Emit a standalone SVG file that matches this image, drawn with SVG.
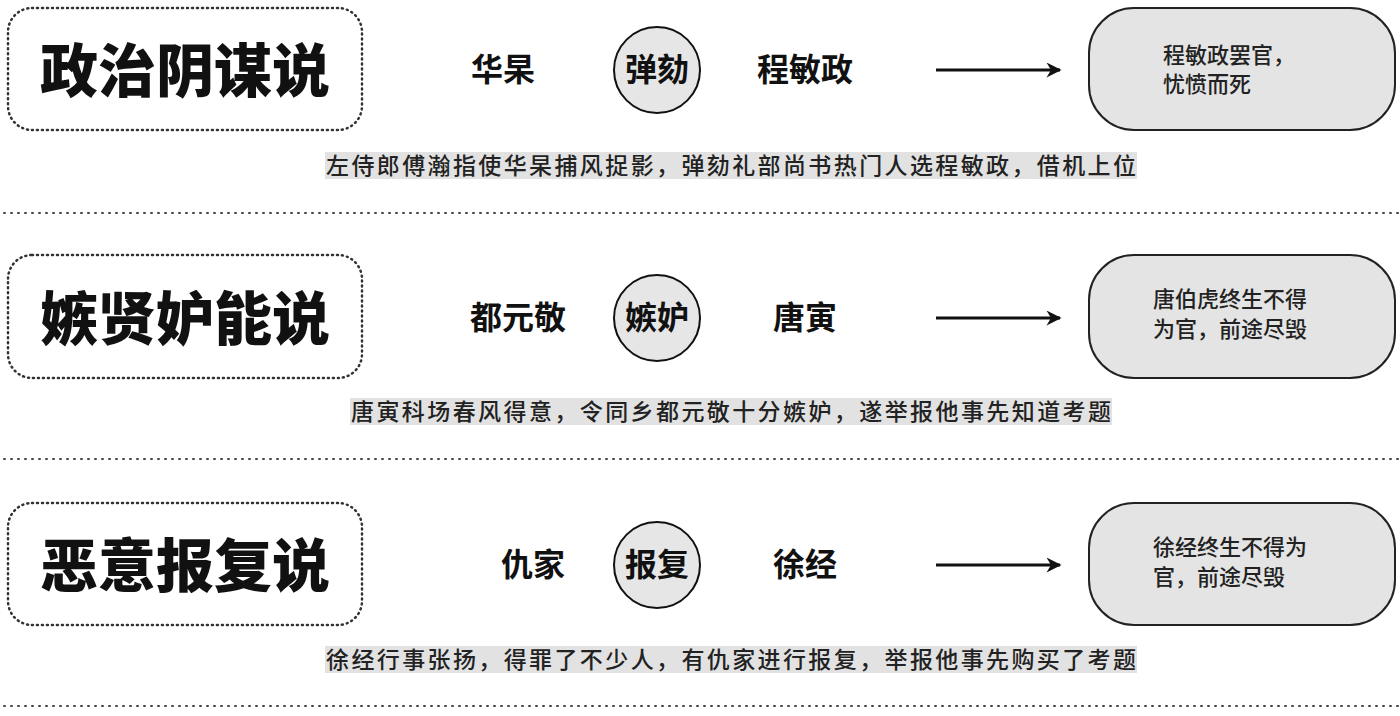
<svg xmlns="http://www.w3.org/2000/svg" width="1400" height="716" viewBox="0 0 1400 716">
<style>
.tb{fill:#fff;stroke:#333;stroke-width:2.5;stroke-dasharray:1 4;stroke-linecap:round}
.tt{font-family:"Noto Sans CJK SC",sans-serif;font-weight:900;font-size:58px;text-anchor:middle;fill:#111}
.nm{font-family:"Noto Sans CJK SC",sans-serif;font-weight:700;font-size:32px;text-anchor:middle;fill:#111}
.ci{fill:#e6e6e6;stroke:#111;stroke-width:2}
.rb{fill:#e4e4e4;stroke:#222;stroke-width:2}
.rt{font-family:"Noto Sans CJK SC",sans-serif;font-weight:500;font-size:22px;fill:#222}
.cp{font-family:"Noto Sans CJK SC",sans-serif;font-weight:500;font-size:23px;fill:#222}
.cb{fill:#e2e2e2}
.sp{stroke:#444;stroke-width:2;stroke-dasharray:1 6;stroke-linecap:round}
.ar{stroke:#111;stroke-width:3}
</style>
<defs><marker id="ah" viewBox="0 0 10 10" refX="9" refY="5" markerWidth="9" markerHeight="5" orient="auto" markerUnits="strokeWidth"><path d="M0,0 L10,5 L0,10 L3,5 z" fill="#111"/></marker></defs>
<g id="row1">
<rect class="tb" x="8" y="8" width="354" height="122" rx="24"/>
<text class="tt" x="185" y="92">政治阴谋说</text>
<text class="nm" x="503" y="81">华杲</text>
<circle class="ci" cx="657" cy="70" r="43"/>
<text class="nm" x="657" y="81">弹劾</text>
<text class="nm" x="805" y="81">程敏政</text>
<rect class="rb" x="1089" y="8" width="306" height="122" rx="45"/>
<text class="rt" x="1163" y="63">程敏政罢官，</text>
<text class="rt" x="1163" y="92">忧愤而死</text>
<rect class="cb" x="325" y="152" width="812" height="27"/>
<text class="cp" x="326" y="174" textLength="810" lengthAdjust="spacing">左侍郎傅瀚指使华杲捕风捉影，弹劾礼部尚书热门人选程敏政，借机上位</text>
</g>
<g id="row2">
<rect class="tb" x="8" y="255" width="354" height="123" rx="24"/>
<text class="tt" x="185" y="340">嫉贤妒能说</text>
<text class="nm" x="518" y="329">都元敬</text>
<circle class="ci" cx="657" cy="318" r="43"/>
<text class="nm" x="657" y="329">嫉妒</text>
<text class="nm" x="805" y="329">唐寅</text>
<rect class="rb" x="1089" y="255" width="306" height="123" rx="45"/>
<text class="rt" x="1153" y="307">唐伯虎终生不得</text>
<text class="rt" x="1153" y="337">为官，前途尽毁</text>
<rect class="cb" x="350" y="398" width="762" height="27"/>
<text class="cp" x="351" y="420" textLength="760" lengthAdjust="spacing">唐寅科场春风得意，令同乡都元敬十分嫉妒，遂举报他事先知道考题</text>
</g>
<g id="row3">
<rect class="tb" x="8" y="503" width="354" height="122" rx="24"/>
<text class="tt" x="185" y="587">恶意报复说</text>
<text class="nm" x="533" y="576">仇家</text>
<circle class="ci" cx="657" cy="565" r="43"/>
<text class="nm" x="657" y="576">报复</text>
<text class="nm" x="805" y="576">徐经</text>
<rect class="rb" x="1089" y="503" width="306" height="122" rx="45"/>
<text class="rt" x="1153" y="555">徐经终生不得为</text>
<text class="rt" x="1153" y="585">官，前途尽毁</text>
<rect class="cb" x="325" y="646" width="812" height="27"/>
<text class="cp" x="326" y="668" textLength="810" lengthAdjust="spacing">徐经行事张扬，得罪了不少人，有仇家进行报复，举报他事先购买了考题</text>
</g>
<g id="connectors">
<line class="ar" x1="936" y1="70" x2="1060" y2="70" marker-end="url(#ah)"/>
<line class="ar" x1="936" y1="318" x2="1060" y2="318" marker-end="url(#ah)"/>
<line class="ar" x1="936" y1="565" x2="1060" y2="565" marker-end="url(#ah)"/>
</g>
<g id="separators">
<line class="sp" x1="4" y1="213" x2="1398" y2="213"/>
<line class="sp" x1="4" y1="459" x2="1398" y2="459"/>
<line class="sp" x1="4" y1="706" x2="1398" y2="706"/>
</g>
</svg>
